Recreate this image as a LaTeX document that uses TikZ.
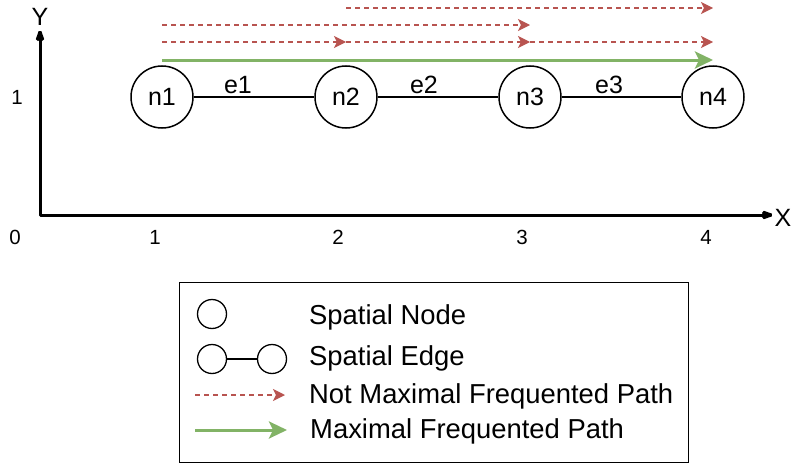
\documentclass[tikz,border=0pt]{standalone}
\usepackage{fontspec}
\setmainfont{Liberation Sans}
\usetikzlibrary{arrows.meta}

\definecolor{pathred}{HTML}{B85450}
\definecolor{pathgreen}{HTML}{82B366}

\tikzset{
  spnode/.style={circle, draw, line width=1.5pt, minimum size=62pt, inner sep=0pt,
    font=\fontsize{25}{29}\selectfont},
  legnode/.style={circle, draw, line width=1.3pt, minimum size=29pt, inner sep=0pt},
  edgeline/.style={line width=1.5pt},
  edgelabel/.style={font=\fontsize{25}{29}\selectfont},
  ticklabel/.style={font=\fontsize{20.5}{24}\selectfont},
  axislabel/.style={font=\fontsize{25}{30}\selectfont},
  legtext/.style={anchor=base west, inner sep=0pt, font=\fontsize{27.4}{32}\selectfont},
  axisline/.style={line width=3pt, miter limit=1,
    {Stealth[length=15pt,width=10pt,inset=2pt]}-{Stealth[length=15pt,width=10pt,inset=2pt]}},
  notmax/.style={pathred, line width=1.3pt, dash pattern=on 5pt off 4pt,
    -{Stealth[length=12pt,width=12pt,inset=3pt]}},
  maxpath/.style={pathgreen, line width=3pt,
    -{Stealth[length=18pt,width=17pt,inset=4pt]}},
}

\begin{document}
\begin{tikzpicture}[x=1pt, y=-1pt]
  \useasboundingbox (0,0) rectangle (793,463);

  % axes
  \coordinate (ytip) at (40,27);
  \coordinate (origin) at (40,215);
  \coordinate (xtip) at (776,215);
  \draw[axisline] (ytip) -- (origin) -- (xtip);
  \node[axislabel] (ylab) at (40,16.5) {Y};
  \node[axislabel] (xlab) at (783,217.5) {X};

  % tick labels
  \node[ticklabel] (t0) at (15,237) {0};
  \node[ticklabel] (t1) at (155,237) {1};
  \node[ticklabel] (t2) at (338,237) {2};
  \node[ticklabel] (t3) at (522,237) {3};
  \node[ticklabel] (t4) at (706,237) {4};
  \node[ticklabel] (ty1) at (17,97) {1};

  % spatial nodes and edges
  \node[spnode] (n1) at (162,97) {n1};
  \node[spnode] (n2) at (346,97) {n2};
  \node[spnode] (n3) at (530,97) {n3};
  \node[spnode] (n4) at (713,97) {n4};
  \draw[edgeline] (n1) -- (n2);
  \draw[edgeline] (n2) -- (n3);
  \draw[edgeline] (n3) -- (n4);
  \node[edgelabel] (e1) at (238,85) {e1};
  \node[edgelabel] (e2) at (424,85) {e2};
  \node[edgelabel] (e3) at (609,85) {e3};

  % rows of frequented paths
  \coordinate (rowA) at (0,8);
  \coordinate (rowB) at (0,25);
  \coordinate (rowC) at (0,42);
  \coordinate (rowG) at (0,60);

  \draw[notmax] (n2 |- rowA) -- (n4 |- rowA);
  \draw[notmax] (n1 |- rowB) -- (n3 |- rowB);
  \draw[notmax] (n1 |- rowC) -- (n2 |- rowC);
  \draw[notmax] (n2 |- rowC) -- (n3 |- rowC);
  \draw[notmax] (n3 |- rowC) -- (n4 |- rowC);
  \draw[maxpath] (n1 |- rowG) -- (n4 |- rowG);

  % legend
  \draw[line width=1pt] (179,282) rectangle (688,462);
  \node[legnode] (ln) at (212,314) {};
  \node[legtext] (lt1) at (309,324) {Spatial Node};
  \node[legnode] (lea) at (212,359) {};
  \node[legnode] (leb) at (272,359) {};
  \draw[edgeline] (lea) -- (leb);
  \node[legtext] (lt2) at (309,365) {Spatial Edge};
  \coordinate (lra) at (195,395);
  \coordinate (lrb) at (285,395);
  \draw[notmax] (lra) -- (lrb);
  \node[legtext] (lt3) at (309,403) {Not Maximal Frequented Path};
  \coordinate (lga) at (195,430);
  \coordinate (lgb) at (287,430);
  \draw[maxpath] (lga) -- (lgb);
  \node[legtext] (lt4) at (310,438) {Maximal Frequented Path};
\end{tikzpicture}
\end{document}
